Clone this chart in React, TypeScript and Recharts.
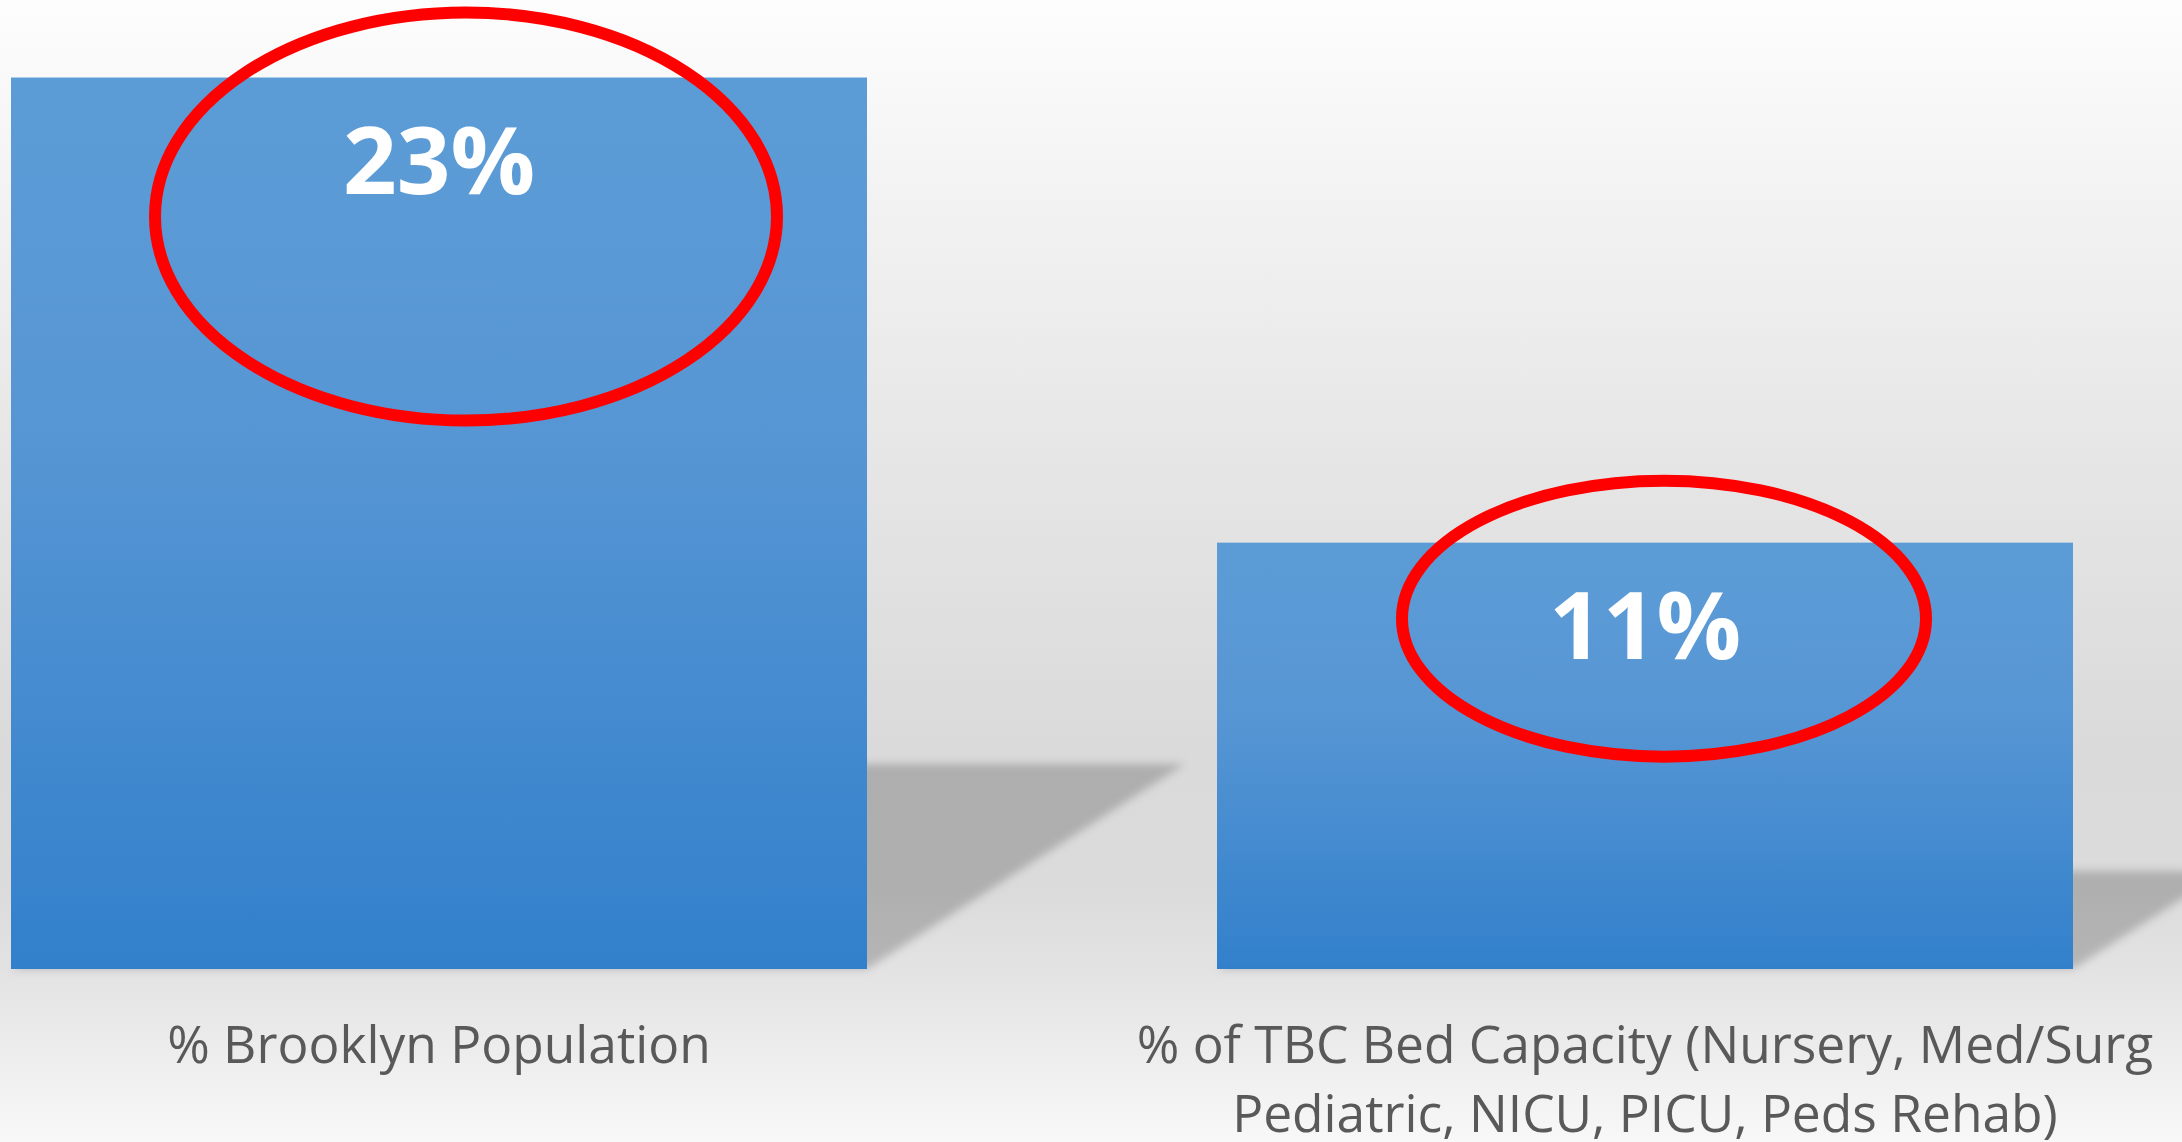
import { Bar, BarChart, LabelList, XAxis, YAxis } from 'recharts';

const categories = ['% Brooklyn Population', '% of TBC Bed Capacity (Nursery, Med/Surg Pediatric, NICU, PICU, Peds Rehab)'];
const shares = [23, 11];
const tickLines = [
  ['% Brooklyn Population'],
  ['% of TBC Bed Capacity (Nursery, Med/Surg', 'Pediatric, NICU, PICU, Peds Rehab)'],
];

// hand-drawn red rings, placed relative to each bar's top centre
const rings = [
  { dx: 27, dy: 139, rx: 311, ry: 204 },
  { dx: 19, dy: 76, rx: 262, ry: 138 },
];

const data = categories.map((name, i) => ({ name, value: shares[i] }));

const font = "'Open Sans', 'DejaVu Sans', sans-serif";

function BarWithShadow(props: any) {
  const { x, y, width, height, index } = props;
  const bottom = y + height;
  const h = height * 0.23;
  const off = h * 1.55;
  const ring = rings[index];
  const cx = x + width / 2;
  return (
    <g>
      <polygon
        points={`${x},${bottom} ${x + width},${bottom} ${x + width + off},${bottom - h} ${x + off},${bottom - h}`}
        fill="#000"
        fillOpacity={0.2}
        filter="url(#shadowBlur)"
      />
      <rect x={x} y={y} width={width} height={height} fill="url(#barFill)" />
      {ring && (
        <ellipse cx={cx + ring.dx} cy={y + ring.dy} rx={ring.rx} ry={ring.ry} fill="none" stroke="#ff0000" strokeWidth={12} />
      )}
    </g>
  );
}

function ValueLabel(props: any) {
  const vb = props.viewBox || props;
  const x = Number(vb.x);
  const y = Number(vb.y);
  const w = Number(vb.width);
  return (
    <text x={x + w / 2} y={y + 116} textAnchor="middle" fill="#ffffff" fontFamily={font} fontWeight={700} fontSize={94}>
      {`${props.value}%`}
    </text>
  );
}

function CategoryTick(props: any) {
  const { x, y, index } = props;
  const lines = tickLines[index] || [];
  return (
    <g>
      {lines.map((line, i) => (
        <text key={line} x={x} y={y + 94 + i * 69} textAnchor="middle" fill="#595959" fontFamily={font} fontSize={51.5}>
          {line}
        </text>
      ))}
    </g>
  );
}

export default function App() {
  return (
    <div
      style={{
        position: 'absolute',
        left: 0,
        top: 0,
        width: 2182,
        height: 1142,
        overflow: 'hidden',
        background: 'linear-gradient(to bottom, #fdfdfd 0%, #f2f2f2 18%, #e6e6e6 40%, #dadada 65%, #dbdbdb 78%, #e4e4e4 86%, #f8f8f8 100%)',
      }}
    >
      <div style={{ position: 'absolute', left: -164, top: 0 }}>
        <BarChart width={2412} height={1142} data={data} margin={{ top: 0, right: 0, bottom: 0, left: 0 }}>
          <defs>
            <linearGradient id="barFill" x1="0" y1="0" x2="0" y2="1">
              <stop offset="0%" stopColor="#5c9cd6" />
              <stop offset="40%" stopColor="#5796d4" />
              <stop offset="100%" stopColor="#3280cb" />
            </linearGradient>
            <filter id="shadowBlur" x="-20%" y="-20%" width="140%" height="140%">
              <feGaussianBlur stdDeviation="4" />
            </filter>
          </defs>
          <XAxis
            dataKey="name"
            height={173}
            axisLine={false}
            tickLine={false}
            tickSize={0}
            tickMargin={0}
            interval={0}
            tick={<CategoryTick />}
          />
          <YAxis hide domain={[0, 25]} />
          <Bar dataKey="value" barSize={856} shape={<BarWithShadow />} isAnimationActive={false}>
            <LabelList dataKey="value" content={<ValueLabel />} />
          </Bar>
        </BarChart>
      </div>
    </div>
  );
}
